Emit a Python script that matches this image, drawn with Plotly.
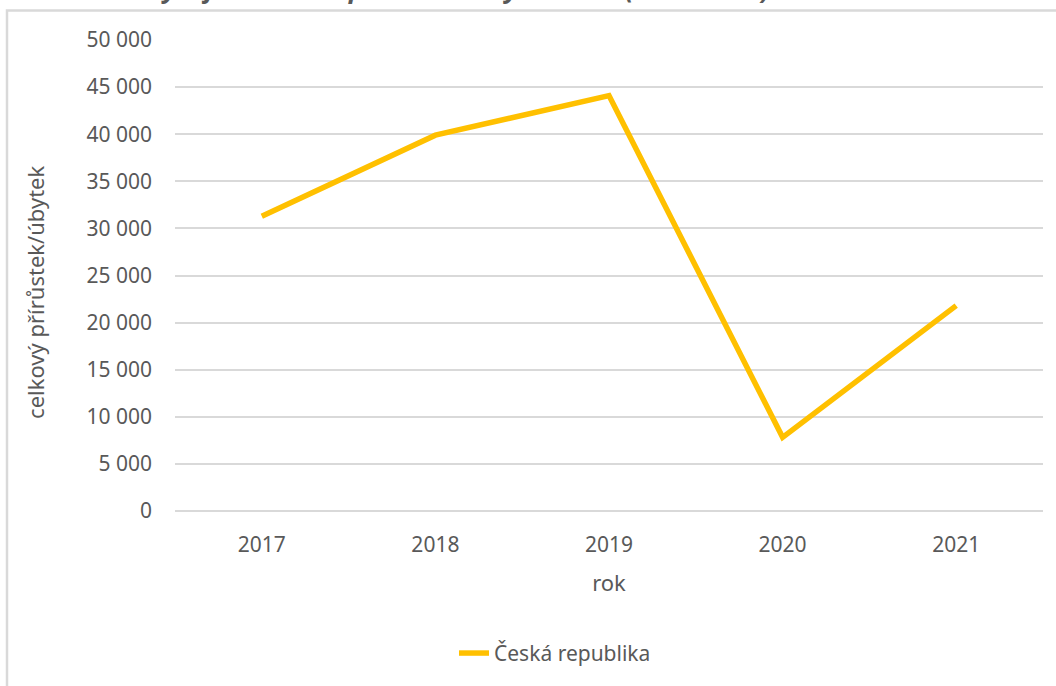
import plotly.graph_objects as go

years = ["2017", "2018", "2019", "2020", "2021"]
values = [31300, 39900, 44100, 7820, 21800]
series_name = "Česká republika"
y_ticks = [0, 5000, 10000, 15000, 20000, 25000, 30000, 35000, 40000, 45000, 50000]

TXT = "#595959"
GRID = "#D9D9D9"
FONT = "Noto Sans"

W, H = 1056, 686
ML, MR, MT, MB = 175, 13, 40, 173
PW = W - ML - MR
PH = H - MT - MB

def px_x(p):
    return (p - ML) / PW

def px_y(p):
    return (H - MB - p) / PH

fig = go.Figure()
fig.add_trace(go.Scatter(
    x=years, y=values, mode="lines", name=series_name,
    line=dict(color="#FFC000", width=5.5),
))

fig.update_layout(
    width=W, height=H,
    margin=dict(l=ML, r=MR, t=MT, b=MB),
    paper_bgcolor="white", plot_bgcolor="white",
    separators=", ",
    font=dict(family=FONT, color=TXT, size=21),
    showlegend=True,
    legend=dict(orientation="h", x=px_x(454), xanchor="left",
                y=px_y(656), yanchor="middle",
                font=dict(size=21, color=TXT), bgcolor="rgba(0,0,0,0)"),
    xaxis=dict(
        type="category", range=[-0.5, 4.5],
        showgrid=False, zeroline=False, showline=False,
        ticks="", ticklabelstandoff=19, tickfont=dict(size=21, color=TXT),
        title=dict(text="rok", font=dict(size=22, color=TXT), standoff=18),
        automargin=False,
    ),
    yaxis=dict(
        range=[0, 50000], tickvals=y_ticks, tickformat=",d",
        showgrid=True, gridcolor=GRID, gridwidth=2,
        zeroline=True, zerolinecolor=GRID, zerolinewidth=2,
        showline=False, ticks="", ticklabelstandoff=22,
        tickfont=dict(size=21, color=TXT),
        automargin=False,
    ),
    shapes=[dict(
        type="rect", xref="paper", yref="paper",
        x0=px_x(7), x1=px_x(1080), y0=px_y(700), y1=px_y(10.5),
        line=dict(color=GRID, width=2.5), fillcolor="rgba(0,0,0,0)", layer="below",
    )],
    annotations=[
        dict(
            text="<b><i>Obrázek 3 – Vývoj celkového přírůstku/úbytku v ČR (2017–2021)</i></b>",
            xref="paper", yref="paper", x=px_x(-3), y=px_y(8),
            xanchor="left", yanchor="bottom", showarrow=False,
            font=dict(size=26, color=TXT, family=FONT),
        ),
        dict(
            text="celkový přírůstek/úbytek", textangle=-90,
            xref="paper", yref="paper", x=px_x(35), y=px_y(294),
            xanchor="center", yanchor="middle", showarrow=False,
            font=dict(size=22, color=TXT, family=FONT),
        ),
    ],
)

fig.write_html("out.html", config={"displayModeBar": False},
               post_script="document.body.style.margin='0';")
